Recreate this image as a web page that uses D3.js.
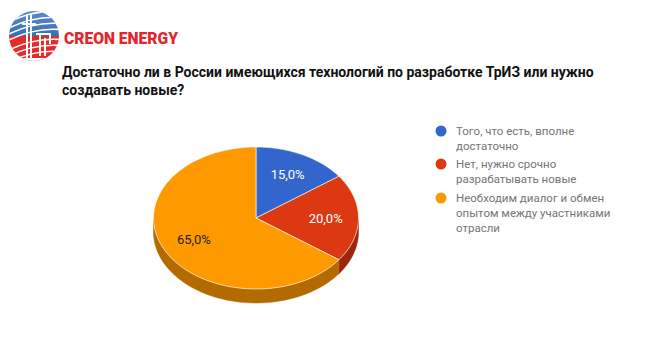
<!DOCTYPE html>
<html><head><meta charset="utf-8">
<script src="https://cdn.jsdelivr.net/npm/d3@7"></script>
<style>body{margin:0;background:#fff}svg{display:block}</style>
</head><body>
<svg id="c" width="662" height="341"></svg>
<script>
const categories = ["Того, что есть, вполне достаточно", "Нет, нужно срочно разрабатывать новые", "Необходим диалог и обмен опытом между участниками отрасли"];
const legendLines = [["Того, что есть, вполне","достаточно"],["Нет, нужно срочно","разрабатывать новые"],["Необходим диалог и обмен","опытом между участниками","отрасли"]];
const values = [15, 20, 65];
const labels = ["15,0%", "20,0%", "65,0%"];
const colors = ["#3366cc", "#dc3912", "#ff9900"];
const sideColors = ["#24478f", "#9a280d", "#b36b00"];
const titleLines = ["Достаточно ли в России имеющихся технологий по разработке ТрИЗ или нужно", "создавать новые?"];

const svg = d3.select("#c");
// Logo
const lg = svg.append("g");
const defs = svg.append("defs");
defs.append("clipPath").attr("id","lc").append("circle").attr("cx",34).attr("cy",36).attr("r",25);
const bg = defs.append("linearGradient").attr("id","bg").attr("x1",0).attr("y1",0).attr("x2",0).attr("y2",1);
bg.append("stop").attr("offset","0").attr("stop-color","#5b8fcf");
bg.append("stop").attr("offset","1").attr("stop-color","#3a6fb0");
const lc = lg.append("g").attr("clip-path","url(#lc)");
lc.append("rect").attr("x",5).attr("y",8).attr("width",60).attr("height",28).attr("fill","url(#bg)");
lc.append("rect").attr("x",5).attr("y",36).attr("width",60).attr("height",30).attr("fill","#e32b2b");
[14,20,26,32,42,48,54].forEach((y,i)=>{
  lc.append("path").attr("d",`M5,${y+10} Q35,${y-6} 65,${y-2}`).attr("stroke","#fff").attr("stroke-width",1.6).attr("fill","none");
});
lc.append("rect").attr("x",0).attr("y",58).attr("width",70).attr("height",10).attr("fill","#fff");
// tower
lg.append("path").attr("d","M27,14 L27,60 M31,14 L31,60 M22,24 L36,24 M36,34 L50,34 L50,44 M40,34 L40,56 M45,38 L45,56")
  .attr("stroke","#fff").attr("stroke-width",2).attr("fill","none");
lg.append("text").attr("x",64).attr("y",43.5).attr("font-family","Roboto, sans-serif").attr("font-weight","900")
  .attr("font-size",17).attr("fill","#e3262b").attr("textLength",114).attr("lengthAdjust","spacingAndGlyphs").text("CREON ENERGY");

// Title
svg.append("g").selectAll("text").data(titleLines).join("text")
  .attr("x",62).attr("y",(d,i)=>77+i*18).attr("font-family","Roboto, sans-serif").attr("font-weight","bold")
  .attr("font-size",14).attr("fill","#111").text(d=>d);

// Pie
const cx = 256, cy = 218, rx = 102.5, ry = 71, depth = 14;
const pie = d3.pie().sort(null).value(d=>d);
const arcs = pie(values);
const pt = (a, s=1) => [cx + rx*s*Math.sin(a), cy - ry*s*Math.cos(a)];
const g = svg.append("g");
// sides: only visible portion (angles between PI/2 and 3PI/2)
arcs.forEach((a,i)=>{
  const s = Math.max(a.startAngle, Math.PI/2), e = Math.min(a.endAngle, 3*Math.PI/2);
  if (e <= s) return;
  const n = 60; let top=[], bot=[];
  for (let k=0;k<=n;k++){ const t = s+(e-s)*k/n; const p=pt(t); top.push(p); bot.push([p[0],p[1]+depth]); }
  const d = "M"+top.map(p=>p.join(",")).join("L")+"L"+bot.reverse().map(p=>p.join(",")).join("L")+"Z";
  g.append("path").attr("d",d).attr("fill",sideColors[i]).attr("stroke",sideColors[i]).attr("stroke-width",0.5);
});
// top faces
arcs.forEach((a,i)=>{
  const n = 80; let pts=[[cx,cy]];
  for (let k=0;k<=n;k++){ pts.push(pt(a.startAngle+(a.endAngle-a.startAngle)*k/n)); }
  g.append("path").attr("d","M"+pts.map(p=>p.join(",")).join("L")+"Z").attr("fill",colors[i]).attr("stroke","#fff").attr("stroke-width",0.6);
});
// labels
arcs.forEach((a,i)=>{
  const m = (a.startAngle+a.endAngle)/2;
  const p = pt(m, 0.68);
  g.append("text").attr("x",p[0]).attr("y",p[1]+4.5).attr("text-anchor","middle")
    .attr("font-family","Roboto, sans-serif").attr("font-size",13)
    .attr("fill", i===2 ? "#222" : "#fff").text(labels[i]);
});

// Legend
const leg = svg.append("g");
const legY = [131, 164, 198];
legendLines.forEach((lines,i)=>{
  leg.append("circle").attr("cx",441).attr("cy",legY[i]).attr("r",5.5).attr("fill",colors[i]);
  lines.forEach((t,j)=>{
    leg.append("text").attr("x",456).attr("y",legY[i]+4+j*15).attr("font-family","Roboto, sans-serif")
      .attr("font-size",11.5).attr("fill","#757575").text(t);
  });
});
</script>
</body></html>
